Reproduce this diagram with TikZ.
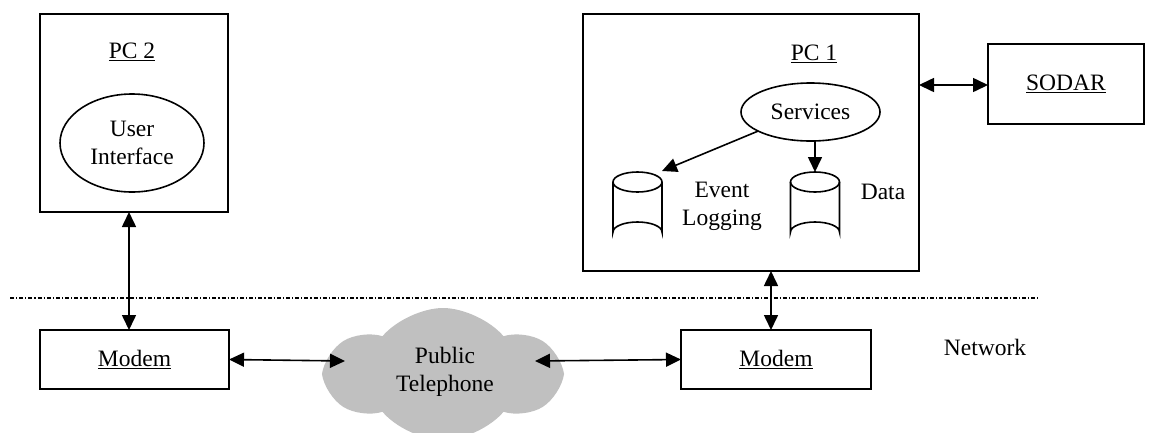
\documentclass[tikz,border=0pt]{standalone}
\usepackage{fontspec}
\setmainfont{Liberation Serif}
\usetikzlibrary{arrows.meta,shapes.geometric,shapes.symbols}
\definecolor{cloudgray}{RGB}{192,192,192}
\begin{document}
\begin{tikzpicture}[x=1pt,y=-1pt,
  every node/.style={font=\fontsize{23.5}{28}\selectfont, inner sep=0pt, outer sep=0pt},
  boxnode/.style={draw, line width=2pt, rectangle},
  ellnode/.style={draw, line width=1.6pt, ellipse, align=center},
  cyl/.style={line width=1.6pt},
  dbl/.style={line width=1.6pt, {Triangle[length=15pt,width=14pt]}-{Triangle[length=15pt,width=14pt]}},
  sgl/.style={line width=1.6pt, -{Triangle[length=15pt,width=14pt]}},
  sepline/.style={line width=1.2pt, dash pattern=on 4pt off 2pt on 1.2pt off 2pt}]
\useasboundingbox (0,0) rectangle (1171,432);

% separator
\coordinate (dl) at (10,298);
\coordinate (dr) at (1040,298);
\draw[sepline] (dl) -- (dr);

% cloud
\node[cloud, cloud puffs=6, cloud puff arc=100, aspect=1.7, fill=cloudgray, minimum width=230pt, minimum height=132pt] (cloud) at (443,374) {};
\node[align=center] (pt) at (445,372) {Public\\Telephone};
\coordinate (cl) at (345,361);
\coordinate (cr) at (535,361);

% PC 2
\node[boxnode, minimum width=188pt, minimum height=198pt] (pc2) at (134,113) {};
\node (pc2l) at (132,52) {\underline{PC 2}};
\node[ellnode, minimum width=144pt, minimum height=98pt] (ui) at (132,143) {User\\Interface};

% Modems
\node[boxnode, minimum width=189pt, minimum height=59pt] (modemL) at (134.5,359.5) {\underline{Modem}};
\node[boxnode, minimum width=190pt, minimum height=59pt] (modemR) at (776,359.5) {\underline{Modem}};
\node (net) at (985,347) {Network};

% PC 1
\node[boxnode, minimum width=336pt, minimum height=257pt] (pc1) at (751,142.5) {};
\node (pc1l) at (814,54) {\underline{PC 1}};
\node[ellnode, minimum width=139pt, minimum height=58pt] (serv) at (810.5,112) {Services};

% cylinders (drawn directly)
\draw[cyl] (613,182) -- (613,232) arc[start angle=180,end angle=360,x radius=24.5,y radius=10] -- (662,182);
\draw[cyl] (637.5,182) ellipse[x radius=24.5,y radius=10];
\draw[cyl] (790.5,182) -- (790.5,232) arc[start angle=180,end angle=360,x radius=24.5,y radius=10] -- (839.5,182);
\draw[cyl] (815,182) ellipse[x radius=24.5,y radius=10];
\coordinate (ev) at (662,171);
\coordinate (data) at (815,172);
\node[align=center] (evl) at (722,206) {Event\\Logging};
\node (datal) at (883,192) {Data};

% SODAR
\node[boxnode, minimum width=156pt, minimum height=80pt] (sodar) at (1066,84) {\underline{SODAR}};

% connectors
\draw[dbl] ([xshift=-5pt]pc2.south) -- ([xshift=-5.5pt]modemL.north);
\draw[dbl] ([xshift=20pt]pc1.south) -- ([xshift=-5pt]modemR.north);
\draw[dbl] (modemL.east) -- (cl);
\draw[dbl] (cr) -- (modemR.west);
\draw[dbl] ([yshift=-1pt]pc1.east |- sodar.west) -- ([yshift=-1pt]sodar.west);
\draw[sgl] (serv.200) -- (ev);
\draw[sgl] (serv.south -| data) -- (data);
\end{tikzpicture}
\end{document}
